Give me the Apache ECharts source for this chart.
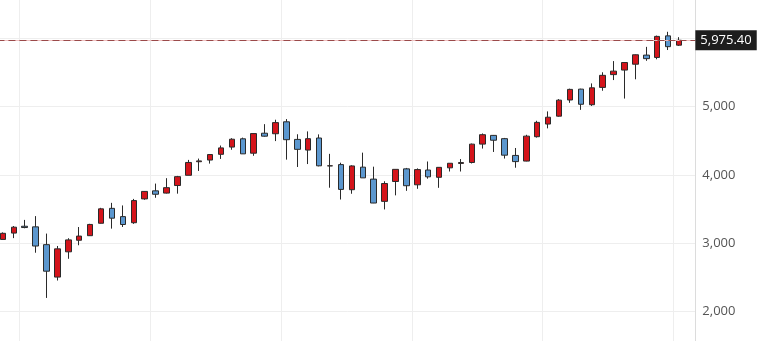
<!DOCTYPE html>
<html>
<head>
<meta charset="utf-8">
<script src="https://cdn.jsdelivr.net/npm/echarts@6/dist/echarts.min.js"></script>
<style>
html,body{margin:0;padding:0;background:#fff;}
#c{width:773px;height:341px;}
</style>
</head>
<body>
<div id="c"></div>
<script>
const months = ['2019-11','2019-12','2020-01','2020-02','2020-03','2020-04','2020-05','2020-06','2020-07','2020-08','2020-09','2020-10','2020-11','2020-12',
'2021-01','2021-02','2021-03','2021-04','2021-05','2021-06','2021-07','2021-08','2021-09','2021-10','2021-11','2021-12',
'2022-01','2022-02','2022-03','2022-04','2022-05','2022-06','2022-07','2022-08','2022-09','2022-10','2022-11','2022-12',
'2023-01','2023-02','2023-03','2023-04','2023-05','2023-06','2023-07','2023-08','2023-09','2023-10','2023-11','2023-12',
'2024-01','2024-02','2024-03','2024-04','2024-05','2024-06','2024-07','2024-08','2024-09','2024-10','2024-11','2024-12',
'2025-01','2025-02'];
const opens = [3050.7,3143.9,3244.7,3235.7,2974.3,2498.1,2869.1,3038.8,3105.9,3288.3,3507.4,3385.9,3296.2,3645.9,
3764.6,3731.2,3842.5,3992.8,4192.0,4216.5,4300.7,4406.9,4528.8,4317.2,4610.6,4602.8,
4778.1,4519.6,4363.1,4540.3,4130.6,4149.8,3781.0,4112.4,3936.7,3609.8,3901.8,4087.1,
3853.3,4070.1,3963.3,4102.2,4166.8,4181.0,4450.5,4578.8,4530.6,4284.5,4201.3,4559.4,
4745.2,4861.1,5098.5,5258.0,5029.0,5283.4,5471.1,5537.8,5623.9,5757.7,5723.2,6040.1,
5903.3,null];
const highs = [3154.3,3247.9,3337.8,3393.5,3136.7,2954.9,3068.7,3233.1,3280.0,3514.8,3588.1,3549.9,3646.0,3760.2,
3870.9,3950.4,3983.9,4218.8,4238.0,4302.4,4430.0,4537.4,4545.9,4608.1,4743.8,4808.9,
4818.6,4595.3,4637.3,4593.5,4307.7,4177.5,4140.2,4325.3,4119.3,3905.4,4080.1,4101.0,
4094.2,4195.4,4110.8,4170.1,4231.1,4458.5,4607.1,4584.6,4541.3,4393.6,4587.6,4793.3,
4931.1,5111.1,5264.9,5264.0,5341.9,5505.5,5669.7,5651.6,5767.4,5878.5,6044.2,6100.0,
6021.0,null];
const lows = [3050.7,3070.3,3214.6,2855.8,2191.9,2447.5,2766.6,2965.7,3101.2,3284.5,3209.5,3233.9,3279.7,3633.4,
3662.7,3725.6,3723.3,3992.8,4056.9,4164.4,4233.1,4367.7,4305.9,4278.9,4560.0,4495.1,
4222.6,4114.7,4157.9,4124.3,3810.3,3636.9,3721.6,3954.5,3584.1,3491.6,3698.2,3764.5,
3794.3,3943.1,3808.9,4048.3,4048.3,4166.2,4385.1,4335.3,4238.6,4103.8,4197.7,4546.5,
4682.1,4853.5,5056.8,4953.6,5011.1,5234.3,5391.0,5119.3,5402.6,5674.0,5696.5,5832.3,
5892.0,null];
const closes = [3141.0,3230.8,3225.5,2954.2,2584.6,2912.4,3044.3,3100.3,3271.1,3500.3,3363.0,3270.0,3621.6,3756.1,
3714.2,3811.2,3972.9,4181.2,4204.1,4297.5,4395.3,4522.7,4307.5,4605.4,4567.0,4766.2,
4515.6,4373.9,4530.4,4131.9,4132.2,3785.4,4130.3,3955.0,3585.6,3872.0,4080.1,3839.5,
4076.6,3970.2,4109.3,4169.5,4179.8,4450.4,4589.0,4507.7,4288.1,4193.8,4567.8,4769.8,
4845.7,5096.3,5254.4,5035.7,5277.5,5460.5,5522.3,5648.4,5762.5,5705.5,6032.4,5881.6,
5975.40,null];
const yTicks = [2000,3000,4000,5000];
const lastPrice = 5975.40;

const candleData = months.map((m,i) => opens[i] == null ? '-' : [opens[i], closes[i], lows[i], highs[i]]);

const chart = echarts.init(document.getElementById('c'), null, {renderer:'canvas'});
chart.setOption({
  animation: false,
  backgroundColor: '#ffffff',
  textStyle: {fontFamily: 'Open Sans'},
  grid: {left: -2.55, top: -29.5, width: 697.9, height: 408.6, containLabel: false, outerBoundsMode: 'none'},
  xAxis: {
    type: 'category',
    data: months,
    boundaryGap: true,
    axisLine: {show: false},
    axisTick: {show: false},
    axisLabel: {show: false},
    splitLine: {
      show: true,
      interval: function(idx, val){ return /-01$/.test(val); },
      lineStyle: {color: '#eeeeee', width: 1}
    }
  },
  yAxis: {
    type: 'value',
    position: 'right',
    min: 1000, max: 7000, interval: 1000,
    axisLine: {show: true, lineStyle: {color: '#dcdcdc'}},
    axisTick: {show: false},
    axisLabel: {
      margin: 7,
      color: '#555555',
      fontSize: 13,
      fontFamily: 'Open Sans',
      formatter: function(v){ return yTicks.indexOf(v) >= 0 ? v.toLocaleString('en-US') : ''; }
    },
    splitLine: {show: true, lineStyle: {color: '#eeeeee', width: 1}}
  },
  series: [{
    type: 'candlestick',
    data: candleData,
    barWidth: 6,
    itemStyle: {
      color: '#d4141b',
      color0: '#5b97cf',
      borderColor: '#2a2a2a',
      borderColor0: '#2a2a2a',
      borderWidth: 1
    },
    markLine: {
      silent: true,
      symbol: ['none','none'],
      animation: false,
      data: [
        {yAxis: lastPrice, lineStyle: {color: '#f0c0c0', type: 'solid', width: 1}, label: {show: false}},
        {yAxis: lastPrice, lineStyle: {color: '#9a4a4a', type: [7,4], width: 1},
         label: {
           show: true, position: 'end', distance: 0,
           formatter: function(){ return lastPrice.toLocaleString('en-US',{minimumFractionDigits:2}); },
           color: '#ffffff', backgroundColor: '#1e1e1e', padding: [4,5,3,5],
           fontSize: 13, fontFamily: 'Open Sans'
         }}
      ]
    }
  }]
});
</script>
</body>
</html>
